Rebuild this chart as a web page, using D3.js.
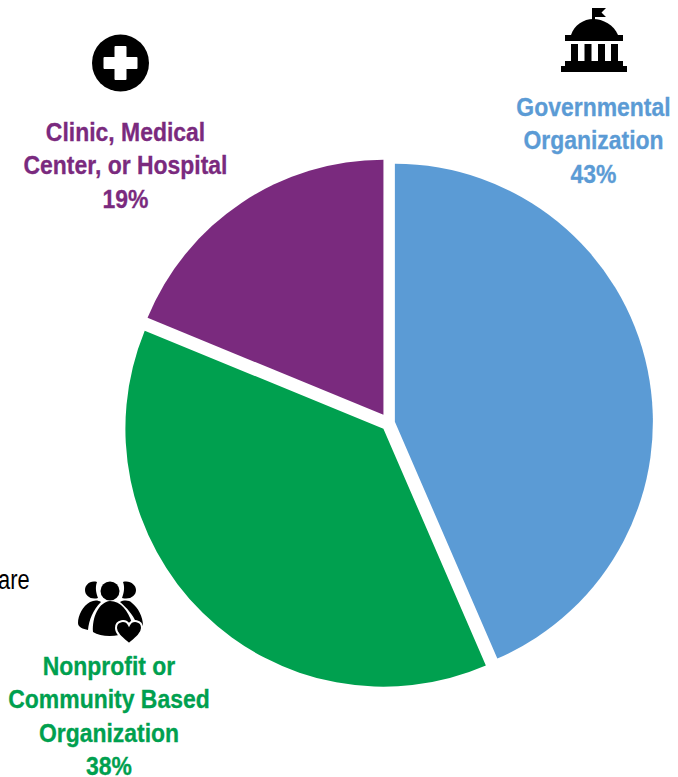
<!DOCTYPE html>
<html>
<head>
<meta charset="utf-8">
<script src="https://cdn.jsdelivr.net/npm/d3@7"></script>
<style>
  html, body { margin: 0; padding: 0; background: #fff; }
  text { font-family: "Liberation Sans", sans-serif; }
</style>
</head>
<body>
<div id="chart"></div>
<script>
const categories = ["Governmental Organization", "Nonprofit or Community Based Organization", "Clinic, Medical Center, or Hospital"]
const shares = [43.5, 37.7, 18.8]
const shareLabels = ["43%", "38%", "19%"]
const colors = ["#5b9bd5", "#00a04f", "#7a2a7e"]
const labelLines = [
    ["Governmental", "Organization"],
    ["Nonprofit or", "Community Based", "Organization"],
    ["Clinic, Medical", "Center, or Hospital"]
]

const width = 678, height = 777
const cx = 389, cy = 423
const narrow = 0.9 // no Arial Narrow here, squeeze the regular face

// slices are pulled out of the pie, not separated by a stroke
const explode = [6, 8, 10]
const radii = [258, 258, 255]

const svg = d3.select("#chart").append("svg")
    .attr("width", width)
    .attr("height", height)
    .style("display", "block")

const pie = d3.pie().sort(null).value(d => d)
const arc = d3.arc().innerRadius(0)

svg.append("g")
    .attr("transform", "translate(" + cx + "," + cy + ")")
    .selectAll("path")
    .data(pie(shares))
    .enter().append("path")
    .attr("d", (d, i) => arc.outerRadius(radii[i])(d))
    .attr("fill", (d, i) => colors[i])
    .attr("transform", (d, i) => {
        const mid = (d.startAngle + d.endAngle) / 2
        return "translate(" + explode[i] * Math.sin(mid) + "," + (-explode[i] * Math.cos(mid)) + ")"
    })

// labels
const labelPos = [
    { x: 593.5, y: 116 },
    { x: 109, y: 675 },
    { x: 125.5, y: 141 }
]
categories.forEach((c, i) => {
    const t = svg.append("text")
        .attr("transform", "translate(" + labelPos[i].x + "," + labelPos[i].y + ") scale(" + narrow + ",1)")
        .attr("text-anchor", "middle")
        .attr("font-size", 25.5)
        .attr("font-weight", "bold")
        .attr("fill", colors[i])
        .attr("stroke", colors[i])
        .attr("stroke-width", 0.3)
    labelLines[i].concat(shareLabels[i]).forEach((line, j) => {
        t.append("tspan")
            .attr("x", 0)
            .attr("y", j * 33.5)
            .text(line)
    })
})

// cut off leftover word at the left edge
svg.append("text")
    .attr("transform", "translate(-2,589) scale(0.78,1)")
    .attr("font-size", 28)
    .attr("fill", "#000")
    .text("are")

// government icon
const gov = svg.append("g").attr("fill", "#000")
gov.append("path").attr("d", "M592,20V8H606L601.5,12.5L606,17H595V20Z")
gov.append("path").attr("d", "M571,35C574,25 584,19 593,19C603,19 614,25 618,35Z")
gov.append("rect").attr("x", 565).attr("y", 35).attr("width", 58).attr("height", 6)
;[571, 584.5, 598, 611].forEach(x => {
    gov.append("rect").attr("x", x).attr("y", 44).attr("width", 7).attr("height", 18)
})
gov.append("rect").attr("x", 565).attr("y", 61).attr("width", 58).attr("height", 6)
gov.append("rect").attr("x", 561).attr("y", 66).attr("width", 66).attr("height", 6)

// medical icon
svg.append("circle").attr("cx", 120.5).attr("cy", 63).attr("r", 28.5).attr("fill", "#000")
svg.append("path").attr("fill", "#fff")
    .attr("stroke", "#fff").attr("stroke-width", 2).attr("stroke-linejoin", "round")
    .attr("d", "M115.5,47H125.5V58H136.5V68H125.5V79H115.5V68H104.5V58H115.5Z")

// people icon
const people = svg.append("g").attr("fill", "#000")
people.append("circle").attr("cx", 110).attr("cy", 591).attr("r", 9.5)
people.append("path").attr("d", "M97,582C90,580 85,585 85,590C85,596 91,600 98,598C96,593 95,587 97,582Z")
people.append("path").attr("d", "M123,582C130,580 136,585 136,590C136,596 130,600 122,598C124,593 125,587 123,582Z")
people.append("path").attr("d", "M90,602C94,600 98,600 101,602C93,610 89,620 88,630C83,629 78,627 78,623C78,615 83,606 90,602Z")
people.append("path").attr("d", "M120,602C124,600 129,600 132,603C138,608 143,616 143,626L136,622C133,615 127,608 120,602Z")
people.append("path").attr("d", "M110,601C121,601 128,611 132,623L122,622L116,630L119,635C110,637 99,636 93,632C92,617 99,602 110,601Z")
people.append("path").attr("stroke", "#fff").attr("stroke-width", 2)
    .attr("d", "M129,644C123,639 116,634 116,628C116,620 126,619 129,625C132,619 142,620 142,628C142,634 135,639 129,644Z")
</script>
</body>
</html>
